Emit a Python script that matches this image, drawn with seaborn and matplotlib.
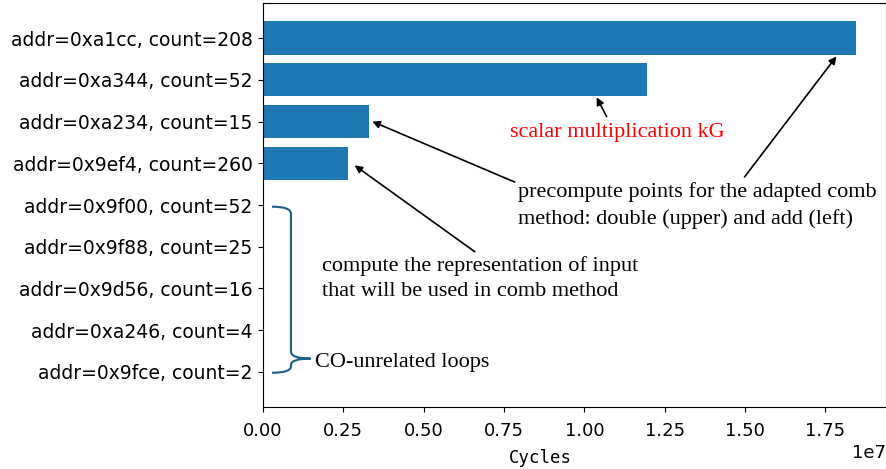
import matplotlib
matplotlib.use("Agg")
import matplotlib.pyplot as plt
import seaborn as sns
import numpy as np
from matplotlib.path import Path
from matplotlib.patches import PathPatch

labels = [
    "addr=0xa1cc, count=208",
    "addr=0xa344, count=52",
    "addr=0xa234, count=15",
    "addr=0x9ef4, count=260",
    "addr=0x9f00, count=52",
    "addr=0x9f88, count=25",
    "addr=0x9d56, count=16",
    "addr=0xa246, count=4",
    "addr=0x9fce, count=2",
]
cycles = [1.846e7, 1.194e7, 0.330e7, 0.265e7, 2.0e4, 1.0e4, 6.0e3, 2.0e3, 1.0e3]

fig = plt.figure(figsize=(8.87, 4.69), dpi=100)
ax = fig.add_axes([263 / 887, 1 - 407 / 469, (886 - 263) / 887, (407 - 3) / 469])

sns.barplot(x=cycles, y=labels, orient="h", color="#1f77b4", saturation=1,
            width=0.8, ax=ax)
ax.set_ylim(8.84, -0.84)
ax.set_xlim(0, max(cycles) * 1.05)
ax.set_ylabel("")
ax.set_xlabel("Cycles", family="DejaVu Sans Mono", fontsize=12.5)
ax.xaxis.set_label_coords(0.446, -0.105)
ax.tick_params(axis="y", labelsize=13.5, pad=4)
ax.tick_params(axis="x", labelsize=13, pad=7.5)
ax.xaxis.get_offset_text().set_fontsize(13)

serif = "Liberation Serif"
fs = 16
arrow = dict(arrowstyle="-|>", color="black", lw=1.2, mutation_scale=11,
             shrinkA=0, shrinkB=0)

# scalar multiplication
ax.text(0.768e7, 2.36, "scalar multiplication kG", color="red", family=serif,
        fontsize=fs, ha="left", va="baseline")
ax.annotate("", xy=(cycles[1] - 0.156e7, 1.42), xytext=(1.069e7, 1.88),
            arrowprops=arrow)

# precompute
ax.text(0.793e7, 4.45, "precompute points for the adapted comb\nmethod: double (upper) and add (left)",
        family=serif, fontsize=fs, ha="left", va="baseline", linespacing=1.45)
ax.annotate("", xy=(cycles[0] - 0.062e7, 0.44), xytext=(1.498e7, 3.33),
            arrowprops=arrow)
ax.annotate("", xy=(cycles[2] + 0.01e7, 2.0), xytext=(0.783e7, 3.45),
            arrowprops=arrow)

# compute representation
ax.text(0.183e7, 6.17, "compute the representation of input\nthat will be used in comb method",
        family=serif, fontsize=fs, ha="left", va="baseline", linespacing=1.42)
ax.annotate("", xy=(cycles[3] + 0.02e7, 3.05), xytext=(0.659e7, 5.12),
            arrowprops=arrow)

# CO-unrelated loops
ax.text(0.162e7, 7.88, "CO-unrelated loops", family=serif, fontsize=fs,
        ha="left", va="baseline")

# curly brace
x0, xs, xt = 0.028e7, 0.087e7, 0.148e7
yt, ym, yb = 4.04, 7.68, 8.02
r = 0.17
verts = [
    (x0, yt), (xs, yt), (xs, yt + r),
    (xs, ym - r),
    (xs, ym), (xt, ym),
    (xs, ym), (xs, ym + r * 0.9),
    (xs, yb - r * 0.9),
    (xs, yb), (x0, yb),
]
codes = [Path.MOVETO, Path.CURVE3, Path.CURVE3, Path.LINETO,
         Path.CURVE3, Path.CURVE3, Path.CURVE3, Path.CURVE3,
         Path.LINETO, Path.CURVE3, Path.CURVE3]
ax.add_patch(PathPatch(Path(verts, codes), fill=False, edgecolor="#1b5e86",
                       lw=1.5, clip_on=False))

fig.savefig("out.png", dpi=100)
